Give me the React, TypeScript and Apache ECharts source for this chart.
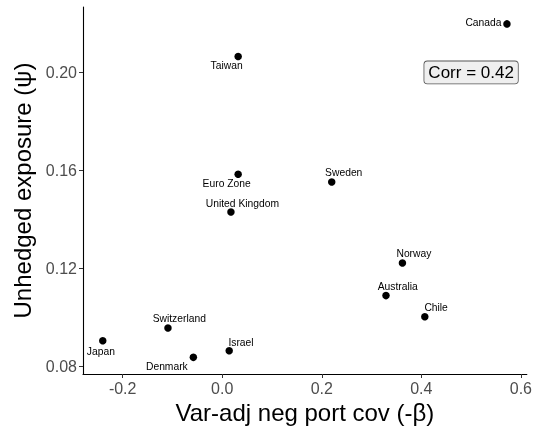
import React, { useEffect, useRef } from "react";
import * as echarts from "echarts";

const countries = ["Canada", "Taiwan", "Euro Zone", "United Kingdom", "Sweden", "Norway", "Australia", "Chile", "Switzerland", "Japan", "Israel", "Denmark"];
const xValues = [0.572, 0.032, 0.032, 0.0175, 0.22, 0.362, 0.329, 0.407, -0.109, -0.24, 0.014, -0.058];
const yValues = [0.2198, 0.2065, 0.1584, 0.143, 0.1553, 0.1222, 0.1089, 0.1003, 0.0957, 0.0905, 0.0864, 0.0837];
const xTicks = [-0.2, 0.0, 0.2, 0.4, 0.6];
const yTicks = [0.08, 0.12, 0.16, 0.2];
const corrText = "Corr = 0.42";
const corrAt = [0.5, 0.2];

// label placement (pixel offsets from point centre), styling only
const labelOffsets: Record<string, number[]> = {
  "Canada": [-23.5, -1.5],
  "Taiwan": [-11.5, 9.3],
  "Euro Zone": [-11.5, 9.6],
  "United Kingdom": [11.5, -8.7],
  "Sweden": [12, -9.3],
  "Norway": [11.5, -9.3],
  "Australia": [11.7, -8.7],
  "Chile": [11.3, -9],
  "Switzerland": [11.3, -9],
  "Japan": [-1.9, 10.4],
  "Israel": [11.8, -8.7],
  "Denmark": [-26.5, 9],
};

const FONT = "'Liberation Sans', Arial, Helvetica, sans-serif";

export default function App() {
  const ref = useRef<HTMLDivElement>(null);
  useEffect(() => {
    if (!ref.current) return;
    const chart = echarts.init(ref.current, undefined, { renderer: "svg" });
    const data = countries.map((name, i) => ({
      name,
      value: [xValues[i], yValues[i]],
      label: {
        show: true,
        position: "inside",
        offset: labelOffsets[name],
        formatter: name,
        fontSize: 10.3,
        color: "#000",
        fontFamily: FONT,
        align: "center",
        verticalAlign: "middle",
      },
    }));
    chart.setOption({
      animation: false,
      textStyle: { fontFamily: FONT },
      grid: { left: 83, right: 8, top: 7, bottom: 58 },
      xAxis: {
        type: "value",
        min: -0.2797,
        max: 0.612,
        name: "Var-adj neg port cov (-\u03b2)",
        nameLocation: "middle",
        nameGap: 24,
        nameTextStyle: { fontSize: 24, color: "#000", fontFamily: FONT },
        splitLine: { show: false },
        axisLine: { show: true, onZero: false, lineStyle: { color: "#000", width: 1.1 } },
        axisTick: { show: true, length: 4, lineStyle: { color: "#333" }, customValues: xTicks },
        axisLabel: {
          customValues: xTicks,
          formatter: (v: number) => v.toFixed(1),
          fontSize: 16,
          color: "#4d4d4d",
          margin: 6,
          fontFamily: FONT,
        },
      },
      yAxis: {
        type: "value",
        min: 0.0769,
        max: 0.2267,
        name: "Unhedged exposure (\u03c8)",
        nameLocation: "middle",
        nameGap: 45,
        nameTextStyle: { fontSize: 24, color: "#000", fontFamily: FONT },
        splitLine: { show: false },
        axisLine: { show: true, onZero: false, lineStyle: { color: "#000", width: 1.1 } },
        axisTick: { show: true, length: 4, lineStyle: { color: "#333" }, customValues: yTicks },
        axisLabel: {
          customValues: yTicks,
          formatter: (v: number) => v.toFixed(2),
          fontSize: 16,
          color: "#4d4d4d",
          margin: 6,
          fontFamily: FONT,
        },
      },
      series: [
        {
          type: "scatter",
          symbol: "circle",
          symbolSize: 7.5,
          itemStyle: { color: "#000", opacity: 1 },
          data,
          markPoint: {
            symbol: "circle",
            symbolSize: 1,
            itemStyle: { color: "rgba(0,0,0,0)" },
            data: [
              {
                coord: corrAt,
                label: {
                  show: true,
                  position: "inside",
                  formatter: corrText,
                  fontSize: 17,
                  lineHeight: 17,
                  color: "#000",
                  fontFamily: FONT,
                  backgroundColor: "#efefef",
                  borderColor: "#555",
                  borderWidth: 0.8,
                  borderRadius: 3,
                  padding: [3, 4, 2, 4],
                },
              },
            ],
          },
        },
      ],
    });
    return () => chart.dispose();
  }, []);
  return <div ref={ref} style={{ position: "fixed", left: 0, top: 0, width: 535, height: 432 }} />;
}
